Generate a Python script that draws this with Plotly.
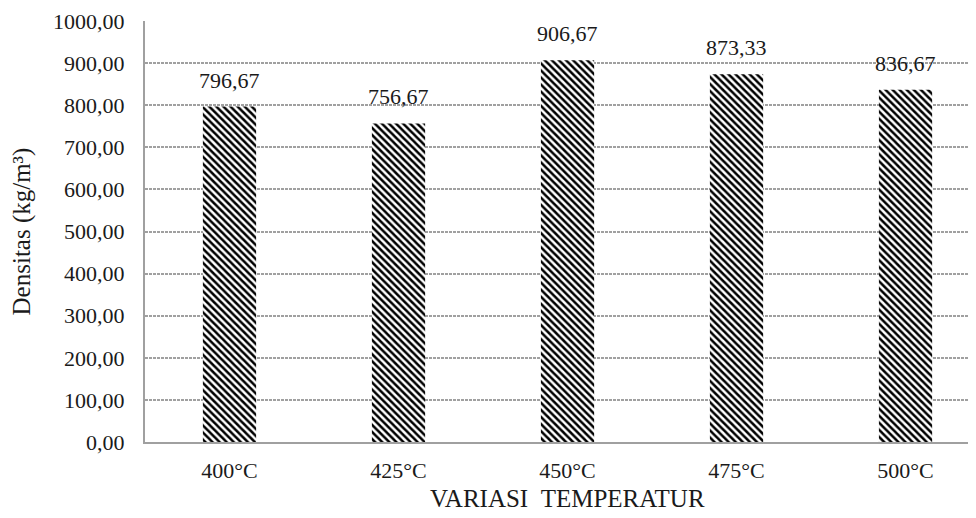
import plotly.graph_objects as go

categories = ["400°C", "425°C", "450°C", "475°C", "500°C"]
densitas = [796.67, 756.67, 906.67, 873.33, 836.67]
y_ticks = [0, 100, 200, 300, 400, 500, 600, 700, 800, 900, 1000]

FONT = "Liberation Serif, Times New Roman, serif"
TXT = "#1a1a1a"
GRID = "#a0a0a0"

x_pos = list(range(len(categories)))

fig = go.Figure(
    go.Bar(
        x=x_pos,
        y=densitas,
        width=0.315,
        marker=dict(
            color="white",
            line=dict(width=0),
            pattern=dict(shape="\\", fgcolor="black", bgcolor="white",
                         size=5, solidity=0.5, fillmode="replace"),
        ),
        hoverinfo="skip",
    )
)

for xi, v in zip(x_pos, densitas):
    fig.add_annotation(
        x=xi, y=v, xref="x", yref="y",
        text=f"{v:.2f}".replace(".", ","),
        showarrow=False, yanchor="bottom", yshift=12,
        font=dict(family=FONT, size=22, color=TXT),
    )

fig.update_layout(
    width=968, height=510,
    margin=dict(l=137, r=0, t=13, b=76),
    paper_bgcolor="white", plot_bgcolor="white",
    separators=",.",
    showlegend=False,
    font=dict(family=FONT, size=22, color=TXT),
    xaxis=dict(
        range=[-0.5, 4.417],
        tickmode="array",
        tickvals=x_pos,
        ticktext=categories,
        showgrid=False,
        showline=True, linecolor=GRID, linewidth=2,
        ticks="",
        ticklabelstandoff=8,
        tickfont=dict(family=FONT, size=22, color=TXT),
    ),
    yaxis=dict(
        range=[0, 1000],
        tickmode="array",
        tickvals=y_ticks,
        tickformat=".2f",
        showgrid=True, gridcolor=GRID, gridwidth=1.5, griddash="3px,1px",
        showline=True, linecolor=GRID, linewidth=2,
        ticks="",
        ticklabelstandoff=14,
        zeroline=False,
        tickfont=dict(family=FONT, size=22, color=TXT),
        title=dict(text="Densitas (kg/m³)",
                   font=dict(family=FONT, size=25, color=TXT), standoff=16),
    ),
)

# x-axis title centred on the (partially cropped) category band
fig.add_annotation(
    x=2, y=0, xref="x", yref="paper",
    text="VARIASI\u00a0\u00a0TEMPERATUR",
    showarrow=False, yanchor="top", yshift=-41,
    font=dict(family=FONT, size=25, color=TXT),
)

fig.write_html("out.html")
